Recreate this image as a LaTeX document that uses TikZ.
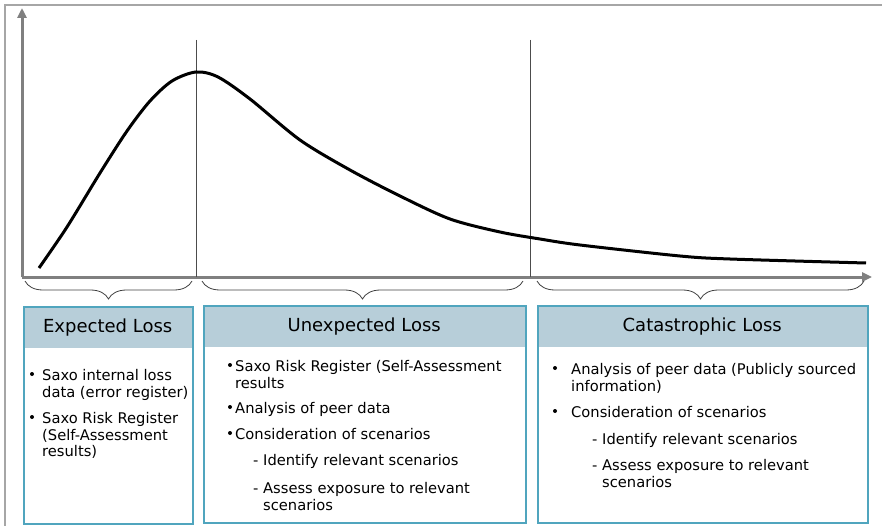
\documentclass[tikz,border=0pt]{standalone}
\usepackage{fontspec}
\setmainfont{DejaVu Sans}
\usetikzlibrary{arrows.meta}
\usetikzlibrary{decorations.pathreplacing}
\usetikzlibrary{positioning}
\usepackage{xcolor}
\definecolor{axisgray}{RGB}{128,128,128}
\definecolor{framegray}{RGB}{166,166,166}
\definecolor{boxline}{RGB}{80,165,190}
\definecolor{headfill}{RGB}{183,206,217}

\begin{document}
\begin{tikzpicture}[x=1pt,y=-1pt]
      \useasboundingbox (0,0) rectangle (882,526);
      \tikzstyle{panel}=[draw=boxline,line width=1.5pt,rectangle,anchor=north west,inner sep=0pt,minimum height=217pt]
      \tikzstyle{head}=[fill=headfill,rectangle,anchor=north west,inner sep=0pt,minimum height=42pt,font=\fontsize{18}{21}\selectfont]
      \tikzstyle{txt}=[anchor=north west,align=left,inner sep=0pt,font=\fontsize{14.7}{16.7}\selectfont]
      \tikzstyle{axis}=[axisgray,line width=3pt,-{Triangle[length=10pt,width=9pt]}]
      \tikzstyle{brace}=[decorate,decoration={brace,amplitude=18pt,mirror},draw=black!75,line width=0.8pt]

      % frame
      \draw[framegray,line width=2pt] (5,526) -- (5,5) -- (882,5);

      % axes
      \coordinate (origin) at (22,277);
      \coordinate (ytop)   at (22,8);
      \coordinate (xend)   at (872,277);
      \draw[axis] (origin) -- (ytop);
      \draw[axis] (origin) -- (xend);

      % thresholds
      \coordinate (el)  at (196,40);
      \coordinate (elb) at (196,277);
      \coordinate (ul)  at (530,40);
      \coordinate (ulb) at (530,277);
      \draw[black!70,line width=1pt] (el) -- (elb);
      \draw[black!70,line width=1pt] (ul) -- (ulb);

      % loss distribution
      \draw[line width=3pt] plot[smooth,tension=0.5] coordinates {
            (39,268) (67,227) (100,173) (127,131) (150,101) (172,81) (196,72)
            (218,77) (250,99) (300,140) (350,170) (400,196) (450,219)
            (500,232) (540,239) (580,245) (680,256) (730,259) (866,263)};

      % braces
      \draw[brace] (25,281)  -- (192,281);
      \draw[brace] (202,281) -- (523,281);
      \draw[brace] (537,281) -- (864,281);

      % panels
      \node[head,minimum width=169pt] (exphead) at (23,306)  {Expected Loss};
      \node[head,minimum width=322pt] (unxhead) at (203,305) {Unexpected Loss};
      \node[head,minimum width=330pt] (cathead) at (537,305) {Catastrophic Loss};
      \node[panel,minimum width=169pt] (expbox) at (exphead.north west) {};
      \node[panel,minimum width=322pt] (unxbox) at (unxhead.north west) {};
      \node[panel,minimum width=330pt] (catbox) at (cathead.north west) {};

      % expected loss
      \fill (32,374) circle (2pt);
      \fill (32,417) circle (2pt);
      \node[txt] (exp1) at (42,369) {Saxo internal loss\\data (error register)};
      \node[txt] (exp2) at (42,412) {Saxo Risk Register\\(Self-Assessment\\results)};

      % unexpected loss
      \fill (230,365) circle (2pt);
      \fill (230,407) circle (2pt);
      \fill (230,433) circle (2pt);
      \node[txt] (unx1) at (235,360) {Saxo Risk Register (Self-Assessment\\results};
      \node[txt] (unx2) at (235,402) {Analysis of peer data};
      \node[txt] (unx3) at (235,428) {Consideration of scenarios};
      \node[txt] (unx4) at (253,454) {- Identify relevant scenarios};
      \node[txt] (unx5) at (253,482) {- Assess exposure to relevant\\\hphantom{- }scenarios};

      % catastrophic loss
      \fill (555,368) circle (2pt);
      \fill (555,411) circle (2pt);
      \node[txt] (cat1) at (571,363) {Analysis of peer data (Publicly sourced\\information)};
      \node[txt] (cat2) at (571,406) {Consideration of scenarios};
      \node[txt] (cat3) at (592,433) {- Identify relevant scenarios};
      \node[txt] (cat4) at (592,459) {- Assess exposure to relevant\\\hphantom{- }scenarios};
\end{tikzpicture}
\end{document}
